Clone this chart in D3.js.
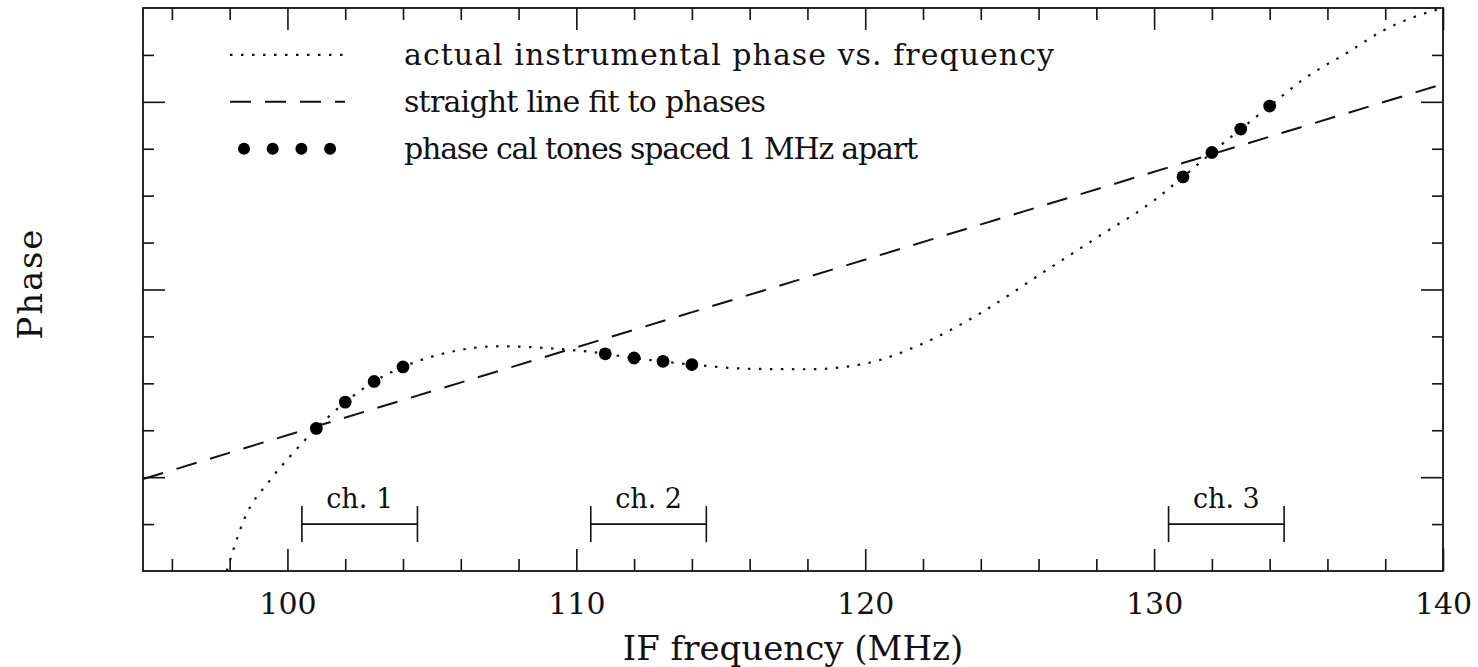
<!DOCTYPE html>
<html>
<head>
<meta charset="utf-8">
<script src="https://cdn.jsdelivr.net/npm/d3@7"></script>
<style>
    body { margin: 0; background: #fff; }
    text { font-family: "DejaVu Serif", "Liberation Serif", serif; fill: #111; }
</style>
</head>
<body>
<div id="phase-chart"></div>
<script>
/**
 * Data
 *  */

// dotted curve: actual instrumental phase vs. frequency
var curveFreq = [97.9, 98.5, 99.4, 100.1, 101, 102, 103, 104, 105.5, 107.3, 109, 110.5, 112, 114,
    116, 118, 120, 122, 124, 126, 128, 130, 131, 132, 133, 134, 135.1, 136.8, 137.9, 139.1, 140];
var curvePhase = [0, 1.1, 1.94, 2.45, 3.04, 3.60, 4.04, 4.35, 4.65, 4.79, 4.75, 4.67, 4.54, 4.40,
    4.31, 4.30, 4.42, 4.85, 5.5, 6.3, 7.1, 7.9, 8.40, 8.92, 9.42, 9.91, 10.45, 11.09, 11.51, 11.83, 12.0];

// phase cal tones, 1 MHz apart
var toneFreq = [101, 102, 103, 104, 111, 112, 113, 114, 131, 132, 133, 134];
var tonePhase = [3.04, 3.60, 4.04, 4.35, 4.63, 4.54, 4.47, 4.40, 8.40, 8.92, 9.42, 9.91];

// straight line fit (end points)
var fitFreq = [95, 140];
var fitPhase = [1.96, 10.38];

// channels
var channelNames = ["ch. 1", "ch. 2", "ch. 3"];
var channelLow = [100.5, 110.5, 130.5];
var channelHigh = [104.5, 114.5, 134.5];
var channelPhase = 1.0;

// ticks
var xMajorTicks = [100, 110, 120, 130, 140];
var xMinorTicks = [96, 98, 102, 104, 106, 108, 112, 114, 116, 118, 122, 124, 126, 128, 132, 134, 136, 138];
var yMajorTicks = [2, 6, 10];
var yMinorTicks = [1, 3, 4, 5, 7, 8, 9, 11];

var legendLabels = ["actual instrumental phase vs. frequency", "straight line fit to phases",
    "phase cal tones spaced 1 MHz apart"];

drawPhaseChart();

function drawPhaseChart() {
    var margin = { top: 8, right: 35, bottom: 96, left: 143 };
    var width = 1478 - margin.left - margin.right;
    var height = 667 - margin.top - margin.bottom;

    var svg = d3.select("#phase-chart").append("svg")
        .attr("width", 1478)
        .attr("height", 667);

    var g = svg.append("g")
        .attr("transform", "translate(" + margin.left + "," + margin.top + ")");

    var x = d3.scaleLinear().domain([95, 140]).range([0, width]);
    var y = d3.scaleLinear().domain([0, 12]).range([height, 0]);

    svg.append("defs").append("clipPath")
        .attr("id", "plot-clip")
        .append("rect")
        .attr("width", width)
        .attr("height", height);

    // axes (ticks point inward)
    function addAxis(axisFn, ticks, size, labels, transform) {
        var axis = axisFn.tickValues(ticks).tickSize(-size).tickSizeOuter(0).tickPadding(22);
        if (!labels) axis.tickFormat("");
        var a = g.append("g")
            .attr("transform", transform)
            .call(axis);
        a.select(".domain").remove();
        a.selectAll(".tick line").attr("stroke", "#111").attr("stroke-width", 1.6);
        a.selectAll(".tick text")
            .attr("font-size", "30px")
            .attr("font-family", "DejaVu Serif")
            .attr("fill", "#111");
        return a;
    }

    addAxis(d3.axisBottom(x), xMinorTicks, 12, false, "translate(0," + height + ")");
    addAxis(d3.axisBottom(x), xMajorTicks, 22, true, "translate(0," + height + ")");
    addAxis(d3.axisTop(x), xMinorTicks, 12, false, "translate(0,0)");
    addAxis(d3.axisTop(x), xMajorTicks, 22, false, "translate(0,0)");
    addAxis(d3.axisLeft(y), yMinorTicks, 11, false, "translate(0,0)");
    addAxis(d3.axisLeft(y), yMajorTicks, 22, false, "translate(0,0)");
    addAxis(d3.axisRight(y), yMinorTicks, 11, false, "translate(" + width + ",0)");
    addAxis(d3.axisRight(y), yMajorTicks, 22, false, "translate(" + width + ",0)");

    g.append("rect")
        .attr("width", width)
        .attr("height", height)
        .attr("fill", "none")
        .attr("stroke", "#111")
        .attr("stroke-width", 1.8);

    var plot = g.append("g").attr("clip-path", "url(#plot-clip)");

    // dotted curve
    var curveLine = d3.line()
        .x(function (d, i) { return x(curveFreq[i]); })
        .y(function (d, i) { return y(curvePhase[i]); })
        .curve(d3.curveMonotoneX);

    plot.append("path")
        .attr("d", curveLine(curveFreq))
        .attr("fill", "none")
        .attr("stroke", "#111")
        .attr("stroke-width", 2.2)
        .attr("stroke-dasharray", "2.5,8.5");

    // dashed fit
    var fitLine = d3.line()
        .x(function (d, i) { return x(fitFreq[i]); })
        .y(function (d, i) { return y(fitPhase[i]); });

    plot.append("path")
        .attr("d", fitLine(fitFreq))
        .attr("fill", "none")
        .attr("stroke", "#111")
        .attr("stroke-width", 2)
        .attr("stroke-dasharray", "21,14");

    // phase cal tones
    g.selectAll(".tone")
        .data(toneFreq)
        .enter().append("circle")
        .attr("class", "tone")
        .attr("cx", function (d) { return x(d); })
        .attr("cy", function (d, i) { return y(tonePhase[i]); })
        .attr("r", 6.4)
        .attr("fill", "#000");

    // channel brackets
    var ch = g.selectAll(".channel")
        .data(channelNames)
        .enter().append("g")
        .attr("class", "channel");

    ch.append("line")
        .attr("x1", function (d, i) { return x(channelLow[i]); })
        .attr("x2", function (d, i) { return x(channelHigh[i]); })
        .attr("y1", y(channelPhase))
        .attr("y2", y(channelPhase));
    ch.append("line")
        .attr("x1", function (d, i) { return x(channelLow[i]); })
        .attr("x2", function (d, i) { return x(channelLow[i]); })
        .attr("y1", y(channelPhase) - 18)
        .attr("y2", y(channelPhase) + 18);
    ch.append("line")
        .attr("x1", function (d, i) { return x(channelHigh[i]); })
        .attr("x2", function (d, i) { return x(channelHigh[i]); })
        .attr("y1", y(channelPhase) - 18)
        .attr("y2", y(channelPhase) + 18);
    ch.selectAll("line")
        .attr("stroke", "#111")
        .attr("stroke-width", 1.6);

    ch.append("text")
        .attr("x", function (d, i) { return x((channelLow[i] + channelHigh[i]) / 2); })
        .attr("y", y(channelPhase) - 16)
        .attr("text-anchor", "middle")
        .attr("font-size", "27px")
        .text(function (d) { return d; });

    // legend
    var legend = g.append("g").attr("transform", "translate(87,0)");
    var rowY = [y(11), y(10), y(9)];
    var legendWidths = [650, 362, 514];

    legend.append("line")
        .attr("x1", 0).attr("x2", 113)
        .attr("y1", rowY[0]).attr("y2", rowY[0])
        .attr("stroke", "#111").attr("stroke-width", 2.2)
        .attr("stroke-dasharray", "2.5,8.5");
    legend.append("line")
        .attr("x1", 0).attr("x2", 115)
        .attr("y1", rowY[1]).attr("y2", rowY[1])
        .attr("stroke", "#111").attr("stroke-width", 2)
        .attr("stroke-dasharray", "21,14");
    legend.selectAll(".legend-dot")
        .data([0, 1, 2, 3])
        .enter().append("circle")
        .attr("class", "legend-dot")
        .attr("cx", function (d) { return 14 + d * 28.7; })
        .attr("cy", rowY[2])
        .attr("r", 6)
        .attr("fill", "#000");

    legend.selectAll(".legend-text")
        .data(legendLabels)
        .enter().append("text")
        .attr("class", "legend-text")
        .attr("x", 174)
        .attr("y", function (d, i) { return rowY[i] + 10; })
        .attr("font-size", "30px")
        .attr("textLength", function (d, i) { return legendWidths[i]; })
        .attr("lengthAdjust", "spacing")
        .text(function (d) { return d; });

    // axis titles
    svg.append("text")
        .attr("x", margin.left + width / 2)
        .attr("y", 660)
        .attr("text-anchor", "middle")
        .attr("font-size", "34px")
        .text("IF frequency (MHz)");

    svg.append("text")
        .attr("transform", "translate(42," + (margin.top + height / 2 - 5) + ") rotate(-90)")
        .attr("text-anchor", "middle")
        .attr("font-size", "34px")
        .attr("textLength", 110)
        .attr("lengthAdjust", "spacing")
        .text("Phase");
}
</script>
</body>
</html>
